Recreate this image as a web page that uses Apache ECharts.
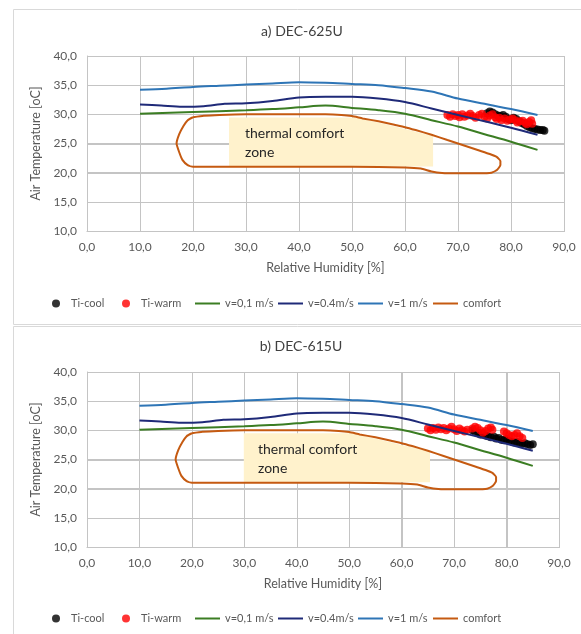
<!DOCTYPE html>
<html><head><meta charset="utf-8">
<script src="https://cdn.jsdelivr.net/npm/echarts@6/dist/echarts.min.js"></script>
<style>html,body{margin:0;padding:0;background:#fff}#c{width:581px;height:634px}</style>
</head><body><div id="c"></div>
<script>
// ---- data ----
const titles = ['a) DEC-625U', 'b) DEC-615U'];
const xTicks = [0, 10, 20, 30, 40, 50, 60, 70, 80, 90];
const yTicks = [10, 15, 20, 25, 30, 35, 40];
const seriesNames = ['Ti-cool', 'Ti-warm', 'v=0,1 m/s', 'v=0.4m/s', 'v=1 m/s', 'comfort'];

const lineV01 = [[10,30.1],[20,30.4],[30,30.7],[35,30.9],[40,31.2],[45,31.5],[50,31.1],[55,30.7],[60,30.1],[65,29.0],[70,27.9],[75,26.6],[80,25.3],[85,23.9]];
const lineV04 = [[10,31.7],[14,31.5],[18,31.3],[22,31.4],[26,31.8],[30,31.9],[35,32.3],[40,32.9],[45,33.0],[50,33.0],[55,32.7],[60,32.1],[65,31.0],[70,29.9],[75,28.8],[80,27.7],[85,26.5]];
const lineV1  = [[10,34.2],[15,34.4],[20,34.7],[25,34.9],[30,35.1],[35,35.3],[40,35.5],[45,35.4],[50,35.2],[55,35.0],[60,34.5],[65,33.9],[70,32.7],[75,31.8],[80,30.9],[85,29.9]];
const comfortZone = [[20,29.5],[22,29.75],[25,29.9],[30,30.0],[35,30.0],[40,30.0],[45,30.0],[48,29.9],[50,29.7],[52,29.3],[55,28.8],[58,28.2],[60,27.8],[62,27.3],[65,26.5],[68,25.6],[70,25.0],[72,24.4],[74,23.8],[76,23.2],[77.3,22.7],[78,22.0],[78,21.3],[77.4,20.5],[76.3,20.0],[74,19.9],[70,19.9],[67,19.95],[65,20.2],[63,20.7],[60,20.9],[50,21.0],[40,21.0],[30,21.0],[20,21.0],[19,21.3],[18,22.2],[17.4,23.5],[16.9,25.0],[17.4,26.6],[18.2,28.0],[19,29.0],[20,29.5]];

const coolA = [[75.5,30.2],[76.0,30.5],[76.5,30.3],[77.0,30.0],[77.5,29.8],[78.0,29.7],[78.5,29.9],[79.0,29.6],[79.5,29.2],[80.0,29.0],[80.5,29.4],[81.0,29.2],[81.5,28.8],[82.0,28.5],[82.5,28.3],[83.0,28.0],[83.5,27.8],[84.0,27.6],[84.5,27.5],[85.0,27.4],[85.5,27.3],[86.0,27.3],[86.3,27.2]];
const warmA = [[68.0,29.9],[68.5,29.6],[69.0,30.0],[69.5,29.7],[70.0,29.9],[70.3,29.5],[70.8,30.0],[71.2,29.6],[71.8,29.8],[72.3,30.1],[72.8,29.7],[73.3,29.4],[74.0,29.9],[74.5,30.1],[75.0,29.6],[75.5,29.3],[76.0,29.8],[76.5,30.0],[77.0,29.5],[77.3,29.2],[77.8,29.4],[78.2,29.0],[78.8,29.3],[79.3,28.9],[79.8,29.1],[80.3,29.3],[80.8,29.0],[81.2,28.6],[81.7,28.8],[82.2,28.9],[82.7,28.5],[83.0,28.3],[83.4,28.7],[83.8,29.0],[84.0,28.4]];
const coolB = [[73.5,30.0],[74.0,29.7],[74.6,29.6],[75.0,29.3],[75.5,29.4],[76.0,29.1],[76.5,29.0],[77.0,28.8],[77.6,28.9],[78.0,28.6],[78.5,28.7],[79.0,28.4],[79.5,28.3],[80.0,28.5],[80.5,28.2],[81.0,28.1],[81.5,27.9],[82.0,28.0],[82.5,27.8],[83.0,27.7],[83.5,27.8],[84.0,27.6],[84.5,27.5],[85.0,27.6]];
const warmB = [[65.0,30.3],[65.5,30.0],[66.0,30.4],[66.5,30.1],[67.0,30.5],[67.5,30.2],[68.0,30.4],[68.5,30.0],[69.0,30.3],[69.5,30.6],[70.0,30.2],[70.5,29.9],[71.0,30.3],[71.5,30.0],[72.0,29.8],[72.5,30.1],[73.5,30.3],[74.0,30.6],[74.5,30.4],[75.0,30.0],[75.5,29.6],[76.0,29.9],[76.5,30.3],[77.0,30.5],[77.3,30.1],[79.5,29.8],[80.0,29.5],[80.5,29.2],[81.0,29.0],[81.5,29.2],[82.0,29.5],[82.5,29.0],[83.0,28.7]];

const boxA = [[26.8,21.05],[26.8,29.45],[51,29.45],[53,29.0],[56,28.4],[60,27.5],[65.3,26.3],[65.3,21.05]];
const boxB = [[29.9,21.1],[29.9,29.5],[51,29.5],[53,29.0],[56,28.4],[60,27.5],[65.4,26.4],[65.4,21.1]];
const boxText = 'thermal comfort\nzone';
const boxTextPosA = [29.8, 28.4];
const boxTextPosB = [32.6, 28.4];

// ---- chart ----
const FONT = 'Lato, "Open Sans", sans-serif';
const grids = [
  {left: 87, top: 56, width: 477, height: 175},
  {left: 87, top: 372, width: 472, height: 175}
];
const fmt = v => v.toFixed(1).replace('.', ',');
const colors = {cool:'#000000', warm:'#FF0000', v01:'#3B7D23', v04:'#1F2A78', v1:'#2E75B6', comfort:'#C55A11'};
const GRIDC = '#C4C4C4';

const xAxes = grids.map((g, i) => ({
  gridIndex: i, type: 'value', min: xTicks[0], max: xTicks[xTicks.length-1], interval: xTicks[1]-xTicks[0],
  name: 'Relative Humidity [%]', nameLocation: 'middle', nameGap: 30,
  nameTextStyle: {fontSize: 12.5, color: '#595959', fontFamily: FONT},
  axisLine: {show: true, lineStyle: {color: '#BFBFBF'}}, axisTick: {show: false},
  axisLabel: {formatter: fmt, fontSize: 12, color: '#595959', margin: 10, fontFamily: FONT},
  splitLine: {show: true, lineStyle: {color: GRIDC, width: 1}}
}));
const yAxes = grids.map((g, i) => ({
  gridIndex: i, type: 'value', min: yTicks[0], max: yTicks[yTicks.length-1], interval: yTicks[1]-yTicks[0],
  name: 'Air Temperature [oC]', nameLocation: 'middle', nameGap: 38, nameRotate: 90,
  nameTextStyle: {fontSize: 12.5, color: '#595959', fontFamily: FONT},
  axisLine: {show: true, lineStyle: {color: '#BFBFBF'}}, axisTick: {show: false},
  axisLabel: {formatter: fmt, fontSize: 12, color: '#595959', margin: 10, fontFamily: FONT},
  splitLine: {show: true, lineStyle: {color: GRIDC, width: 1}}
}));

// grid lines (thin filled bars at the tick values) + text box, placed through the axes' scales
function boxSeries(i, box, pos) {
  return {
    type: 'custom', xAxisIndex: i, yAxisIndex: i, data: [[pos[0], pos[1]]], z: 1, silent: true, clip: false,
    renderItem: (params, api) => {
      const x0 = xTicks[0], x1 = xTicks[xTicks.length - 1];
      const y0 = yTicks[0], y1 = yTicks[yTicks.length - 1];
      const gl = [];
      xTicks.forEach(v => {
        const a = api.coord([v, y0]), b = api.coord([v, y1]);
        gl.push({type: 'rect', shape: {x: Math.round(a[0]), y: b[1], width: 1, height: a[1] - b[1]}, style: {fill: GRIDC, stroke: null}});
      });
      yTicks.forEach(v => {
        const a = api.coord([x0, v]), b = api.coord([x1, v]);
        gl.push({type: 'rect', shape: {x: a[0], y: Math.round(a[1]), width: b[0] - a[0] + 1, height: 1}, style: {fill: GRIDC, stroke: null}});
      });
      const pts = box.map(p => api.coord(p));
      const tp = api.coord(pos);
      return {type: 'group', children: gl.concat([
        {type: 'polygon', shape: {points: pts}, style: {fill: '#FFF2CC'}},
        {type: 'text', x: tp[0], y: tp[1], style: {text: boxText, font: '14px ' + FONT, fill: '#262626', lineHeight: 19, verticalAlign: 'top'}}
      ])};
    }
  };
}
function chartSeries(i, cool, warm) {
  const line = (name, data, color) => ({name, type: 'line', xAxisIndex: i, yAxisIndex: i, data, showSymbol: false, smooth: 0.3, color, lineStyle: {width: 2, color}, z: 3});
  return [
    {name: 'Ti-cool', type: 'scatter', xAxisIndex: i, yAxisIndex: i, data: cool, symbolSize: 8, color: colors.cool, z: 2},
    {name: 'Ti-warm', type: 'scatter', xAxisIndex: i, yAxisIndex: i, data: warm, symbolSize: 8, color: colors.warm, z: 2},
    line('v=0,1 m/s', lineV01, colors.v01),
    line('v=0.4m/s', lineV04, colors.v04),
    line('v=1 m/s', lineV1, colors.v1),
    {name: 'comfort', type: 'line', xAxisIndex: i, yAxisIndex: i, data: comfortZone, showSymbol: false, smooth: 0.15, color: colors.comfort, lineStyle: {width: 2, color: colors.comfort}, z: 3}
  ];
}

const legendLefts = [52, 122, 195, 278, 358, 433];
const legendTops = [298, 613];
const legends = [];
legendTops.forEach(top => {
  seriesNames.forEach((n, k) => {
    const dot = k < 2;
    legends.push({
      data: [{name: n, icon: dot ? 'circle' : 'rect'}], left: legendLefts[k], top,
      itemWidth: dot ? 20 : 25, itemHeight: dot ? 8 : 2, selectedMode: false, padding: 0,
      textStyle: {fontSize: 11, color: '#595959', fontFamily: FONT}
    });
  });
});

const option = {
  animation: false,
  grid: grids,
  xAxis: xAxes,
  yAxis: yAxes,
  legend: legends,
  graphic: [
    {type: 'rect', z: -10, shape: {x: 13.5, y: 9.5, width: 600, height: 315}, style: {fill: 'transparent', stroke: '#D9D9D9', lineWidth: 1}, silent: true},
    {type: 'rect', z: -10, shape: {x: 13.5, y: 326.5, width: 600, height: 320}, style: {fill: 'transparent', stroke: '#D9D9D9', lineWidth: 1}, silent: true},
    {type: 'text', x: 302, y: 31, style: {text: titles[0], font: '14px ' + FONT, fill: '#404040', align: 'center', verticalAlign: 'middle'}},
    {type: 'text', x: 301, y: 346, style: {text: titles[1], font: '14px ' + FONT, fill: '#404040', align: 'center', verticalAlign: 'middle'}}
  ],
  series: [
    boxSeries(0, boxA, boxTextPosA),
    boxSeries(1, boxB, boxTextPosB),
    ...chartSeries(0, coolA, warmA),
    ...chartSeries(1, coolB, warmB)
  ]
};
const chart = echarts.init(document.getElementById('c'), null, {renderer: 'canvas'});
chart.setOption(option);
</script>
</body></html>
